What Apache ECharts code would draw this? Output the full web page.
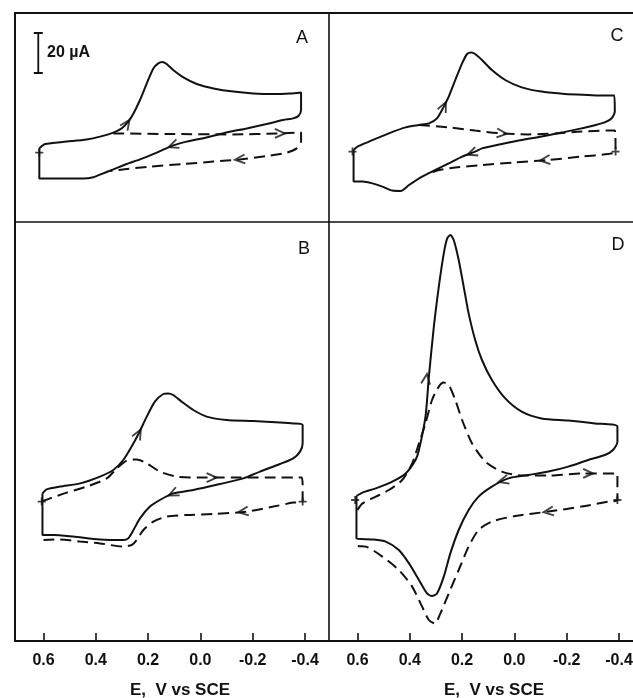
<!DOCTYPE html>
<html><head><meta charset="utf-8">
<script src="https://cdn.jsdelivr.net/npm/echarts@6/dist/echarts.min.js"></script>
<style>html,body{margin:0;padding:0;background:#fff}#c{width:633px;height:698px}</style>
</head><body><div id="c"></div>
<script>
// ---- data (E in V vs SCE, I in µA) ----
const tickValues = [0.6, 0.4, 0.2, 0.0, -0.2, -0.4];
const axisTitle = 'E,  V vs SCE';
const scaleBarLabel = '20 µA';
const scaleBar = [[0.62, 39.5], [0.62, 59.5]];

const aSolid = [[0.616,1.8],[0.594,4],[0.511,5.2],[0.435,6.3],[0.384,7.7],[0.333,9.7],[0.301,11.8],[0.276,15.2],[0.256,19.3],[0.231,26],[0.205,34.3],[0.18,41.8],[0.161,44.3],[0.146,45],[0.129,44],[0.104,41],[0.065,37.3],[0.014,34],[-0.05,31.8],[-0.126,30.2],[-0.202,29.3],[-0.279,29],[-0.343,29.3],[-0.385,29.8],[-0.385,21],[-0.375,18],[-0.355,16.8],[-0.317,16],[-0.253,14],[-0.177,11.8],[-0.1,9.7],[-0.024,7.3],[0.053,5.2],[0.104,3.3],[0.167,-0.3],[0.231,-3.7],[0.282,-6],[0.333,-8.7],[0.384,-11.3],[0.409,-12.6],[0.448,-13.2],[0.537,-13.2],[0.616,-13.2],[0.616,1.8]];
const aDashed = [[0.333,9.3],[0.129,9],[-0.126,8.8],[-0.304,9.3],[-0.385,9.7],[-0.385,5.2],[-0.368,1.8],[-0.33,-0.3],[-0.253,-2],[-0.151,-3.7],[-0.05,-4.8],[0.065,-6],[0.193,-7.3],[0.282,-8.5],[0.345,-9.5]];
const aArrows = [[0.282,14,55],[0.104,3.3,200],[-0.304,9.3,0],[-0.151,-3.7,185]];
const aMarks = [[0.616,-0.3]];

const bSolid = [[0.604,3.8],[0.588,5.8],[0.537,7.2],[0.46,8.8],[0.384,12.2],[0.333,15.5],[0.295,20.5],[0.263,27.2],[0.237,33.5],[0.205,42.2],[0.174,49.7],[0.142,53.5],[0.123,53.8],[0.104,53],[0.072,49.7],[0.027,45.5],[-0.024,42.2],[-0.1,40.5],[-0.202,40],[-0.304,39.3],[-0.355,38.8],[-0.391,38],[-0.391,28.8],[-0.381,24.7],[-0.355,21.3],[-0.304,18.5],[-0.228,14.7],[-0.164,11.3],[-0.075,8.5],[0.027,5.5],[0.104,3.8],[0.155,0.5],[0.193,-2.8],[0.231,-8.7],[0.256,-14.5],[0.276,-18.7],[0.295,-19.5],[0.384,-19.2],[0.486,-17.8],[0.562,-17],[0.604,-17],[0.604,3.8]];
const bDashed = [[0.607,-0.3],[0.575,1.3],[0.511,4.2],[0.435,7.2],[0.358,11.3],[0.32,16.3],[0.282,20.2],[0.244,20.8],[0.205,18.8],[0.155,14.7],[0.091,12.2],[0.002,11.7],[-0.126,11.8],[-0.253,11.8],[-0.387,11.8],[-0.391,7.2],[-0.391,-0.3],[-0.355,-0.8],[-0.279,-2.8],[-0.177,-5.3],[-0.05,-6.5],[0.053,-7],[0.129,-7.8],[0.18,-10.3],[0.218,-14.5],[0.244,-19.5],[0.263,-22],[0.295,-22.8],[0.384,-21.2],[0.46,-20.3],[0.537,-19.2],[0.6,-19.5]];
const bArrows = [[0.237,33.5,62],[0.104,3.8,205],[-0.043,11.7,0],[-0.164,-5.3,188]];
const bMarks = [[0.607,-0.3],[-0.391,-0.3]];

const cSolid = [[0.615,1],[0.6,2.7],[0.556,5.2],[0.48,9.3],[0.416,12.3],[0.365,13.5],[0.327,14.3],[0.296,16.8],[0.27,22.7],[0.251,27.7],[0.226,36],[0.2,44.3],[0.181,49],[0.165,49.8],[0.15,49],[0.124,46],[0.086,41],[0.035,36],[-0.028,32.3],[-0.104,30.2],[-0.193,29],[-0.282,28.5],[-0.346,28.2],[-0.382,28.2],[-0.384,20.2],[-0.371,16.8],[-0.333,14.3],[-0.257,11.8],[-0.18,9.7],[-0.104,7.7],[-0.028,6],[0.048,4],[0.124,1.8],[0.15,0.2],[0.2,-2.3],[0.251,-5.7],[0.302,-9],[0.353,-12.3],[0.403,-16.5],[0.435,-19.5],[0.467,-19.3],[0.505,-17.3],[0.543,-15.7],[0.581,-14.8],[0.615,-14.8],[0.615,1]];
const cDashed = [[0.365,13.5],[0.251,12.3],[0.15,10.7],[0.048,9.3],[-0.054,8.8],[-0.155,9.3],[-0.257,10.2],[-0.358,10.7],[-0.384,10.7],[-0.387,0.2],[-0.358,-1],[-0.257,-2.3],[-0.13,-4],[-0.003,-5.2],[0.124,-6.5],[0.226,-7.8],[0.289,-9],[0.327,-10.7]];
const cArrows = [[0.27,22.7,65],[0.162,-0.5,200],[0.048,9.3,-5],[-0.117,-4,185]];
const cMarks = [[0.619,0.2],[-0.387,0.2]];

const dSolid = [[0.604,2.5],[0.581,4.2],[0.53,6.3],[0.467,9.7],[0.416,13.8],[0.378,20.5],[0.365,25.5],[0.34,42.2],[0.327,62.2],[0.308,87.2],[0.289,107.2],[0.27,123.8],[0.257,131.3],[0.245,133],[0.232,130.5],[0.213,120.5],[0.194,107.2],[0.175,93.8],[0.15,80.5],[0.124,70.5],[0.086,60.5],[0.035,51.3],[-0.028,44.7],[-0.104,41.3],[-0.206,40.2],[-0.308,38.8],[-0.394,37.2],[-0.394,29.7],[-0.377,25.5],[-0.346,23],[-0.282,20.5],[-0.206,17.2],[-0.13,14.7],[-0.054,13],[0.023,11.3],[0.086,7.2],[0.137,2.2],[0.175,-4.5],[0.213,-14.5],[0.245,-26.2],[0.27,-37.8],[0.296,-46.2],[0.315,-47.5],[0.334,-46.2],[0.365,-39.5],[0.403,-31.2],[0.442,-24.5],[0.492,-20.3],[0.543,-19.2],[0.604,-18.7],[0.604,2.5]];
const dDashed = [[0.6,-4.5],[0.581,-1.2],[0.53,2.2],[0.48,5.5],[0.429,10.5],[0.391,18.8],[0.365,28.8],[0.34,38.8],[0.315,50.5],[0.289,57.2],[0.27,59.2],[0.251,58],[0.226,50.5],[0.2,40.5],[0.162,28.8],[0.111,19.7],[0.048,14.7],[-0.028,12.7],[-0.13,12.7],[-0.257,13.8],[-0.39,13.8],[-0.394,13.5],[-0.394,0.5],[-0.358,-0.3],[-0.257,-2.8],[-0.13,-5.3],[-0.003,-7.5],[0.086,-10.3],[0.137,-14.5],[0.175,-22.8],[0.213,-34.5],[0.251,-46.2],[0.283,-56.2],[0.304,-61.2],[0.327,-59.5],[0.353,-52.8],[0.391,-42.8],[0.442,-34.5],[0.505,-27.8],[0.568,-22.8],[0.6,-22.5],[0.604,-20]];
const dArrows = [[0.337,61,82],[0.042,10.2,195],[-0.282,13.8,0],[-0.13,-5.3,188]];
const dMarks = [[0.609,0.5],[-0.394,0.5]];

// ---- chart ----
const FONT = '"Liberation Sans", Arial, sans-serif';
const E_MIN = -0.488, E_MAX = 0.709;
const panels = [
  {name:'A', grid:{left:15, top:13, width:313, height:209}, y:[-35,69.5], solid:aSolid, dashed:aDashed, arrows:aArrows, marks:aMarks, bottom:false},
  {name:'B', grid:{left:15, top:222, width:313, height:419}, y:[-70,139.5], solid:bSolid, dashed:bDashed, arrows:bArrows, marks:bMarks, bottom:true},
  {name:'C', grid:{left:329, top:13, width:313, height:209}, y:[-35,69.5], solid:cSolid, dashed:cDashed, arrows:cArrows, marks:cMarks, bottom:false},
  {name:'D', grid:{left:329, top:222, width:313, height:419}, y:[-70,139.5], solid:dSolid, dashed:dDashed, arrows:dArrows, marks:dMarks, bottom:true}
];
const INK = '#111';
const LW = 2;
const grid = [], xAxis = [], yAxis = [], series = [];
panels.forEach((p, i) => {
  grid.push(Object.assign({containLabel:false, outerBoundsMode:'none'}, p.grid));
  xAxis.push({
    type:'value', gridIndex:i, min:E_MIN, max:E_MAX, inverse:true, position:'bottom',
    axisLine:{show:true, onZero:false, lineStyle:{color:INK, width:p.bottom?2.2:1.6}},
    splitLine:{show:false},
    axisTick:{show:p.bottom, inside:true, length:8, customValues:tickValues, lineStyle:{color:INK, width:1.6}},
    axisLabel:{show:p.bottom, customValues:tickValues, formatter:v=>v.toFixed(1), fontSize:16, fontWeight:'bold', color:INK, fontFamily:FONT, margin:12},
    name:p.bottom?axisTitle:'', nameLocation:'middle', nameGap:41,
    nameTextStyle:{fontSize:17, fontWeight:'bold', color:INK, fontFamily:FONT, padding:[0,0,0,17]}
  });
  yAxis.push({
    type:'value', gridIndex:i, min:p.y[0], max:p.y[1],
    axisLine:{show:true, onZero:false, lineStyle:{color:INK, width:i===0||i===1?2:1.6}},
    axisTick:{show:false}, axisLabel:{show:false}, splitLine:{show:false}
  });
  series.push({type:'line', xAxisIndex:i, yAxisIndex:i, data:p.solid, showSymbol:false, smooth:0.25,
    lineStyle:{color:INK, width:LW}, z:3, silent:true});
  series.push({type:'line', xAxisIndex:i, yAxisIndex:i, data:p.dashed, showSymbol:false, smooth:0.25,
    lineStyle:{color:INK, width:LW, type:[11,6]}, z:3, silent:true});
  series.push({type:'scatter', xAxisIndex:i, yAxisIndex:i, data:p.arrows,
    symbol:'path://M0 0L10 5L0 10', symbolSize:[10,9], symbolRotate:v=>v[2],
    itemStyle:{color:'transparent', borderColor:INK, borderWidth:1.9}, z:5, silent:true});
  series.push({type:'scatter', xAxisIndex:i, yAxisIndex:i, data:p.marks,
    symbol:'path://M0 5L10 5M5 0L5 10', symbolSize:8,
    itemStyle:{color:'transparent', borderColor:INK, borderWidth:1.8}, z:5, silent:true});
});
// top frame lines for A and C
[0, 2].forEach(i => {
  xAxis.push({type:'value', gridIndex:i, min:E_MIN, max:E_MAX, inverse:true, position:'top',
    axisLine:{show:true, onZero:false, lineStyle:{color:INK, width:2}},
    axisTick:{show:false}, axisLabel:{show:false}, splitLine:{show:false}});
});
// 20 µA scale bar in panel A
series.push({type:'line', xAxisIndex:0, yAxisIndex:0, data:scaleBar, symbol:'rect', symbolSize:[9,2], showSymbol:true,
  itemStyle:{color:INK}, lineStyle:{color:INK, width:1.8}, z:5, silent:true});

const letterPos = {A:[302,38], B:[304,249], C:[617,36], D:[618,245]};
const graphic = panels.map(p => ({type:'text', x:letterPos[p.name][0], y:letterPos[p.name][1],
  style:{text:p.name, fontSize:18, fontFamily:FONT, fill:INK, align:'center', verticalAlign:'middle'}}));
graphic.push({type:'text', x:47, y:53, style:{text:scaleBarLabel, fontSize:16, fontWeight:'bold', fontFamily:FONT, fill:INK, align:'left', verticalAlign:'middle'}});

const chart = echarts.init(document.getElementById('c'), null, {renderer:'canvas'});
chart.setOption({backgroundColor:'#fff', animation:false, grid, xAxis, yAxis, series, graphic});
</script></body></html>
